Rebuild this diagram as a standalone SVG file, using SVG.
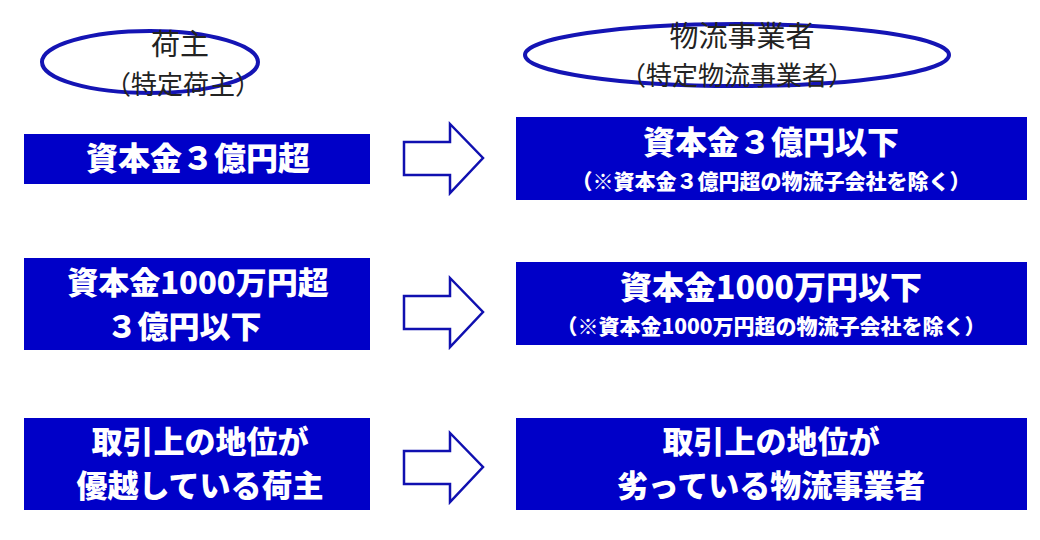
<svg xmlns="http://www.w3.org/2000/svg" width="1040" height="540" viewBox="0 0 1040 540">
<style>
.box{fill:#0000C8}
.t{font-family:"Noto Sans CJK JP",sans-serif;fill:#fff;font-weight:900;text-anchor:middle}
.e{fill:#fff;stroke:#1414B4;stroke-width:4}
.et{font-family:"Noto Sans CJK JP",sans-serif;fill:#222;text-anchor:middle}
.ar{fill:#fff;stroke:#1010B0;stroke-width:2.5;stroke-linejoin:miter}
</style>
<rect width="1040" height="540" fill="#fff"/>
<g id="n_shipper"><ellipse class="e" cx="150" cy="62" rx="108" ry="31"/>
<text class="et" x="180" y="55" font-size="29">荷主</text>
<text class="et" x="183" y="94" font-size="26">（特定荷主）</text></g>
<g id="n_logi"><ellipse class="e" cx="737" cy="55" rx="212" ry="31"/>
<text class="et" x="742" y="47" font-size="29">物流事業者</text>
<text class="et" x="737" y="85" font-size="26">（特定物流事業者）</text></g>
<g id="l1"><rect class="box" x="24" y="134" width="346" height="50"/><text class="t" x="198" y="170" font-size="32">資本金３億円超</text></g>
<g id="l2"><rect class="box" x="24" y="258" width="346" height="92"/><text class="t" x="198" y="294" font-size="31">資本金1000万円超</text><text class="t" x="184" y="338" font-size="31">３億円以下</text></g>
<g id="l3"><rect class="box" x="24" y="418" width="346" height="92"/><text class="t" x="200" y="453" font-size="31">取引上の地位が</text><text class="t" x="200" y="497" font-size="31">優越している荷主</text></g>
<g id="r1"><rect class="box" x="516" y="117" width="511" height="83"/><text class="t" x="771" y="154" font-size="32">資本金３億円以下</text><text class="t" x="771" y="189" font-size="21">（※資本金３億円超の物流子会社を除く）</text></g>
<g id="r2"><rect class="box" x="516" y="262" width="511" height="83"/><text class="t" x="771" y="299" font-size="32">資本金1000万円以下</text><text class="t" x="771" y="334" font-size="21">（※資本金1000万円超の物流子会社を除く）</text></g>
<g id="r3"><rect class="box" x="516" y="418" width="511" height="92"/><text class="t" x="771" y="453" font-size="31">取引上の地位が</text><text class="t" x="771" y="497" font-size="31">劣っている物流事業者</text></g>
<g id="connectors">
<path class="ar" d="M404,142 H450 V124 L483,158 L450,193 V175 H404 Z"/>
<path class="ar" d="M404,296 H450 V278 L483,312 L450,347 V329 H404 Z"/>
<path class="ar" d="M404,451 H450 V433 L483,467 L450,502 V484 H404 Z"/>
</g>
</svg>
